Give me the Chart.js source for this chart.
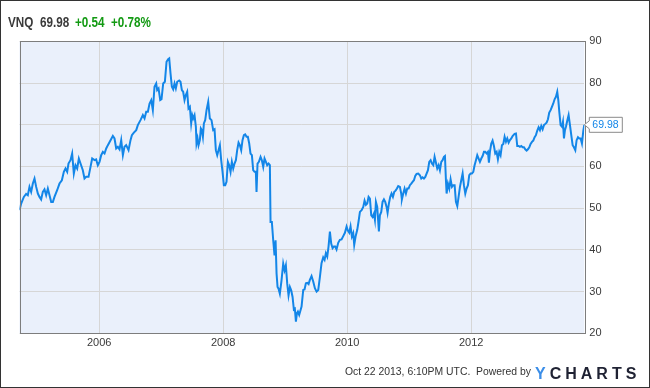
<!DOCTYPE html>
<html>
<head>
<meta charset="utf-8">
<title>VNQ</title>
<script src="https://cdn.jsdelivr.net/npm/chart.js@4.4.0/dist/chart.umd.min.js"></script>
<style>
  body { margin: 0; background: #fff; }
  #wrap { position: relative; width: 650px; height: 388px; overflow: hidden; }
  #chart { position: absolute; left: 0; top: 0; }
  .ttl { position: absolute; top: 13.5px; font: bold 15px "Liberation Sans", Arial, sans-serif; line-height: 15px;
         transform: scaleX(0.78); transform-origin: left top; white-space: nowrap; }
  .dark { color: #3a3a3a; }
  .green { color: #139a13; }
  #stamp { position: absolute; left: 345px; top: 366.7px; font: 10.4px "Liberation Sans", Arial, sans-serif;
           line-height: 10.4px; color: #333; white-space: nowrap; }
  #logo { position: absolute; left: 535px; top: 365.8px; font: bold 16px "Liberation Sans", Arial, sans-serif;
          line-height: 16px; letter-spacing: 4px; color: #1f2233; white-space: nowrap; }
  #logo span { color: #3b8ee8; }
</style>
</head>
<body>
<div id="wrap">
  <canvas id="chart" width="650" height="388"></canvas>
  <div class="ttl dark" style="left:8px">VNQ</div>
  <div class="ttl dark" style="left:40px">69.98</div>
  <div class="ttl green" style="left:75px">+0.54</div>
  <div class="ttl green" style="left:111px">+0.78%</div>
  <div id="stamp">Oct 22 2013, 6:10PM UTC.&nbsp; Powered by</div>
  <div id="logo"><span>Y</span>CHARTS</div>
</div>
<script>
// weekly-ish closes, x in decimal years
const years = [
  2004.716, 2004.743, 2004.786, 2004.823, 2004.850, 2004.877, 2004.904, 2004.931, 2004.958, 2004.985,
  2005.012, 2005.038, 2005.065, 2005.092, 2005.119, 2005.146, 2005.173, 2005.200, 2005.227, 2005.254,
  2005.280, 2005.323, 2005.361, 2005.399, 2005.431, 2005.458, 2005.485, 2005.506, 2005.538, 2005.565,
  2005.592, 2005.619, 2005.646, 2005.673, 2005.700, 2005.737, 2005.764, 2005.791, 2005.829, 2005.861,
  2005.888, 2005.926, 2005.952, 2005.979, 2006.006, 2006.033, 2006.060, 2006.087, 2006.114, 2006.141,
  2006.184, 2006.221, 2006.248, 2006.275, 2006.302, 2006.329, 2006.356, 2006.383, 2006.409, 2006.436,
  2006.474, 2006.506, 2006.528, 2006.560, 2006.598, 2006.624, 2006.667, 2006.705, 2006.732, 2006.759,
  2006.786, 2006.813, 2006.840, 2006.866, 2006.893, 2006.920, 2006.936, 2006.958, 2006.985,
  2007.006, 2007.033, 2007.060, 2007.087, 2007.113, 2007.130, 2007.151, 2007.173, 2007.194, 2007.216,
  2007.237, 2007.259, 2007.291, 2007.312, 2007.334, 2007.355, 2007.377, 2007.398, 2007.420, 2007.441,
  2007.463, 2007.484, 2007.501, 2007.517, 2007.538, 2007.560, 2007.570, 2007.587, 2007.603, 2007.624,
  2007.640, 2007.656, 2007.673, 2007.689, 2007.710, 2007.732, 2007.759, 2007.785, 2007.812, 2007.839,
  2007.861, 2007.882, 2007.904, 2007.925, 2007.947, 2007.968, 2007.990, 2008.011, 2008.033, 2008.054,
  2008.076, 2008.097, 2008.119, 2008.140, 2008.162, 2008.183, 2008.205, 2008.226, 2008.248, 2008.269,
  2008.291, 2008.312, 2008.334, 2008.355, 2008.377, 2008.398, 2008.420, 2008.441, 2008.463, 2008.484,
  2008.506, 2008.527, 2008.538, 2008.554, 2008.576, 2008.603, 2008.624, 2008.646, 2008.667, 2008.689,
  2008.710, 2008.732, 2008.753, 2008.764, 2008.785, 2008.807, 2008.828, 2008.845, 2008.861, 2008.877,
  2008.893, 2008.914, 2008.941, 2008.968, 2008.990, 2009.011, 2009.033, 2009.054, 2009.076, 2009.097,
  2009.119, 2009.140, 2009.156, 2009.173, 2009.189, 2009.205, 2009.226,
  2009.264, 2009.291, 2009.312, 2009.334, 2009.355, 2009.377, 2009.398, 2009.425, 2009.452, 2009.479,
  2009.506, 2009.533, 2009.560, 2009.586, 2009.613, 2009.635, 2009.656, 2009.678, 2009.699, 2009.721,
  2009.742, 2009.764, 2009.785, 2009.807, 2009.828, 2009.855, 2009.882, 2009.909, 2009.936, 2009.963,
  2009.990, 2010.011, 2010.033, 2010.054, 2010.076, 2010.097, 2010.113, 2010.135, 2010.162, 2010.183,
  2010.205, 2010.232, 2010.259, 2010.280, 2010.302, 2010.323, 2010.345, 2010.366, 2010.388, 2010.409,
  2010.431, 2010.447, 2010.463, 2010.484, 2010.511, 2010.527, 2010.549, 2010.570, 2010.592, 2010.613,
  2010.635, 2010.651, 2010.672, 2010.694, 2010.715, 2010.737, 2010.759, 2010.780, 2010.802, 2010.823,
  2010.850, 2010.871, 2010.882, 2010.904, 2010.925, 2010.947, 2010.968, 2010.990, 2011.011, 2011.033,
  2011.054, 2011.076, 2011.097, 2011.119, 2011.146, 2011.172, 2011.194, 2011.215, 2011.237, 2011.259,
  2011.280, 2011.302, 2011.323, 2011.345, 2011.366, 2011.388, 2011.409, 2011.431, 2011.452, 2011.474,
  2011.495, 2011.517, 2011.538, 2011.560,
  2011.576, 2011.592, 2011.603, 2011.624, 2011.646, 2011.667, 2011.689, 2011.710, 2011.732, 2011.753,
  2011.775, 2011.796, 2011.818, 2011.839, 2011.861, 2011.882, 2011.904, 2011.925, 2011.947, 2011.968,
  2011.990, 2012.011, 2012.033, 2012.054, 2012.076, 2012.097, 2012.119, 2012.140, 2012.162, 2012.183,
  2012.205, 2012.226, 2012.248, 2012.269, 2012.285, 2012.301, 2012.323, 2012.344, 2012.366, 2012.387,
  2012.409, 2012.430, 2012.452, 2012.473, 2012.495, 2012.517, 2012.538, 2012.560, 2012.581, 2012.603,
  2012.624, 2012.646, 2012.667, 2012.699, 2012.721, 2012.742, 2012.764, 2012.785, 2012.807, 2012.828,
  2012.850, 2012.871, 2012.893, 2012.914, 2012.936, 2012.957, 2012.979, 2013.000, 2013.022, 2013.043,
  2013.065, 2013.086, 2013.108, 2013.129, 2013.151, 2013.172, 2013.194, 2013.215, 2013.237, 2013.258,
  2013.280, 2013.301, 2013.323, 2013.344, 2013.366, 2013.387, 2013.404, 2013.420, 2013.441, 2013.463,
  2013.479, 2013.495, 2013.511, 2013.527, 2013.549, 2013.570, 2013.592, 2013.613, 2013.635, 2013.656,
  2013.678, 2013.699, 2013.721, 2013.742, 2013.764, 2013.785, 2013.807, 2013.823
];

const prices = [
  49.5, 51.1, 52.7, 53.4, 53.1, 55.1, 53.9, 55.9, 57.1, 55.1,
  53.5, 52.7, 52.1, 53.9, 54.5, 53.1, 54.7, 53.1, 51.5, 51.5,
  52.7, 54.3, 55.9, 56.7, 58.7, 59.5, 58.7, 60.7, 61.5, 63.1,
  58.3, 60.3, 59.5, 61.9, 60.7, 59.1, 57.1, 57.5, 57.5, 59.9,
  61.9, 61.5, 61.7, 60.3, 61.1, 62.7, 63.5, 63.1, 64.3, 65.1,
  66.3, 67.3, 66.7, 64.3, 64.7, 64.1, 66.3, 62.7, 64.7, 65.1,
  63.9, 66.3, 67.5, 68.1, 68.7, 69.9, 71.1, 72.3, 71.5, 73.1,
  73.1, 75.1, 75.9, 73.5, 79.1, 79.9, 78.3, 78.7, 75.9,
  76.1, 79.9, 80.3, 85.1, 85.7, 85.9, 82.3, 79.1, 78.5, 79.9,
  78.7, 80.3, 80.6, 80.3, 78.3, 77.9, 75.9, 77.1, 77.9, 73.9,
  74.3, 70.3, 72.3, 71.5, 72.3, 69.5, 65.5, 66.7, 65.1, 66.3,
  69.1, 68.7, 67.1, 70.3, 71.1, 73.5, 75.5, 71.5, 71.1, 68.7,
  68.9, 63.9, 62.7, 63.9, 65.1, 61.5, 58.7, 55.5, 55.5, 56.3,
  61.1, 60.3, 58.7, 61.1, 59.5, 60.7, 61.5, 63.9, 65.7, 65.1,
  63.9, 66.3, 67.5, 67.7, 67.1, 67.1, 65.5, 63.1, 62.7, 59.1,
  58.7, 58.7, 53.9, 60.7, 61.1, 62.3, 61.5, 59.9, 61.9, 61.1,
  60.3, 60.7, 60.3, 46.7, 46.7, 42.3, 38.7, 42.3, 34.3, 31.1,
  30.7, 29.5, 32.7, 36.7, 35.1, 36.3, 31.9, 29.1, 31.1, 30.3,
  28.7, 25.7, 25.9, 22.8, 24.8, 25.2, 24.4,
  26.4, 30.4, 30.5, 32.0, 32.1, 31.8, 32.8, 33.7, 32.4, 30.8,
  30.0, 30.4, 33.5, 36.8, 38.2, 37.6, 39.2, 38.4, 40.8, 44.4,
  41.5, 40.4, 40.8, 40.8, 40.1, 41.7, 42.4, 42.5, 43.3, 44.1,
  45.6, 44.6, 44.1, 45.6, 43.2, 44.0, 41.2, 43.2, 44.8, 46.8,
  49.1, 49.5, 50.3, 51.8, 50.8, 51.1, 52.7, 52.3, 48.3, 47.9,
  48.7, 47.2, 51.5, 50.3, 44.4, 48.3, 49.1, 51.5, 52.1, 51.5,
  50.3, 48.9, 51.1, 52.7, 53.5, 52.7, 53.9, 54.2, 54.7, 55.3,
  55.1, 53.5, 52.1, 53.5, 54.7, 53.5, 54.7, 54.7, 55.5, 55.9,
  56.3, 56.7, 57.7, 58.2, 58.3, 57.9, 57.1, 57.4, 57.1, 57.5,
  58.3, 59.1, 61.1, 61.5, 60.7, 60.3, 62.3, 60.9, 59.5, 60.3,
  59.1, 61.1, 61.5, 62.3,
  62.5, 56.7, 53.5, 55.9, 54.7, 56.9, 55.1, 55.5, 55.5, 51.5,
  50.5, 52.7, 55.1, 56.7, 58.3, 55.5, 53.5, 54.7, 55.5, 57.9,
  58.3, 58.3, 58.7, 60.3, 61.5, 62.7, 61.9, 61.1, 61.9, 62.5,
  63.5, 63.5, 63.1, 63.5, 60.9, 63.5, 65.5, 66.2, 64.9, 63.1,
  63.5, 61.7, 63.5, 62.7, 65.1, 65.4, 67.1, 65.9, 66.7, 65.7,
  66.3, 66.7, 67.3, 67.8, 67.9, 64.9, 64.9, 64.7, 64.9, 64.6,
  64.6, 64.1, 63.8, 64.1, 64.6, 65.4, 65.9, 66.2, 67.0, 67.5,
  68.6, 69.4, 68.7, 69.7, 68.9, 69.9, 70.2, 70.5, 71.3, 72.9,
  73.5, 74.3, 75.1, 76.1, 76.7, 77.9, 75.9, 73.1, 69.9, 69.5,
  70.7, 66.7, 68.7, 69.5, 71.0, 72.3, 69.9, 67.5, 65.1, 64.6,
  63.9, 66.3, 67.0, 66.7, 66.7, 65.5, 68.5, 69.98
];

const yearTicks = [2006, 2008, 2010, 2012];
const priceTicks = [20, 30, 40, 50, 60, 70, 80, 90];

const lineBlue = '#1386e8';
const tickFont = { family: '"Liberation Sans", Arial, sans-serif', size: 11 };

let points = [];
for (let i = 0; i < years.length; i++) {
  points.push({ x: years[i], y: prices[i] });
}

// plot background, frame, outer border and last-value flag
const frame = {
  id: 'frame',
  beforeDraw(chart) {
    const ctx = chart.ctx;
    const a = chart.chartArea;
    ctx.save();
    ctx.fillStyle = '#fff';
    ctx.fillRect(0, 0, chart.width, chart.height);
    ctx.fillStyle = '#eaf0fb';
    ctx.fillRect(a.left, a.top, a.right - a.left, a.bottom - a.top);
    ctx.restore();
  },
  afterDraw(chart) {
    const ctx = chart.ctx;
    const a = chart.chartArea;
    ctx.save();
    ctx.strokeStyle = '#7d7d7d';
    ctx.lineWidth = 1;
    ctx.strokeRect(Math.round(a.left) + 0.5, Math.round(a.top) + 0.5,
      Math.round(a.right - a.left), Math.round(a.bottom - a.top));

    ctx.strokeStyle = '#333';
    ctx.strokeRect(0.5, 0.5, chart.width - 1, chart.height - 1);

    const last = prices.length - 1;
    const px = chart.scales.x.getPixelForValue(years[last]);
    const py = chart.scales.y.getPixelForValue(prices[last]);
    const bx = px + 5, bw = 33, bh = 15;
    ctx.beginPath();
    ctx.moveTo(bx, py - bh / 2);
    ctx.lineTo(bx + bw, py - bh / 2);
    ctx.lineTo(bx + bw, py + bh / 2);
    ctx.lineTo(bx, py + bh / 2);
    ctx.lineTo(bx, py + 4);
    ctx.lineTo(px, py);
    ctx.lineTo(bx, py - 4);
    ctx.closePath();
    ctx.fillStyle = '#fff';
    ctx.fill();
    ctx.strokeStyle = '#8a8a8a';
    ctx.stroke();
    ctx.fillStyle = lineBlue;
    ctx.font = '10.5px "Liberation Sans", Arial, sans-serif';
    ctx.textBaseline = 'middle';
    ctx.fillText(prices[last].toFixed(2), bx + 3, py + 0.5);
    ctx.restore();
  }
};

const chart = new Chart(document.getElementById('chart'), {
  type: 'line',
  data: {
    datasets: [{
      data: points,
      borderColor: lineBlue,
      borderWidth: 2,
      pointRadius: 0,
      tension: 0,
      fill: false
    }]
  },
  options: {
    responsive: false,
    animation: false,
    devicePixelRatio: 1,
    layout: { padding: { left: 19.5, top: 41.3, right: 0, bottom: 0 } },
    plugins: { legend: { display: false }, tooltip: { enabled: false } },
    scales: {
      x: {
        type: 'linear',
        min: years[0],
        max: years[years.length - 1],
        afterBuildTicks: s => { s.ticks = yearTicks.map(v => ({ value: v })); },
        afterFit: s => { s.height = 54.7; },
        grid: { color: '#d6d6d6', drawTicks: false },
        border: { display: false },
        ticks: { font: tickFont, color: '#3a3a3a', padding: 3, maxRotation: 0, callback: v => String(v) }
      },
      y: {
        position: 'right',
        min: 20,
        max: 90,
        afterBuildTicks: s => { s.ticks = priceTicks.map(v => ({ value: v })); },
        afterFit: s => { s.width = 65.7; },
        grid: { color: '#d6d6d6', drawTicks: false },
        border: { display: false },
        ticks: { font: tickFont, color: '#3a3a3a', padding: 5, callback: v => String(v) }
      }
    }
  },
  plugins: [frame]
});
</script>
</body>
</html>
